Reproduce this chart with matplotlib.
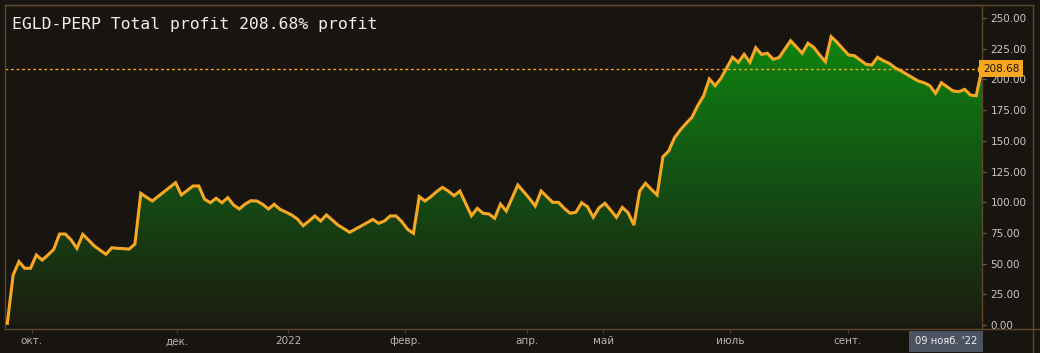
import numpy as np
from matplotlib import pyplot as plt
from matplotlib.colors import LinearSegmentedColormap
from matplotlib.patches import PathPatch
from matplotlib.lines import Line2D

# equity curve, one value per bar (% profit)
profit = [
    1.4, 40.7, 51.6, 46.2, 46.2, 57.0, 52.9, 57.0, 61.6, 74.1,
    74.1, 69.2, 62.4, 73.8, 69.2, 64.3, 61.0, 57.6, 62.9, 62.4,
    62.2, 61.8, 66.0, 107.2, 104.0, 101.0, 104.7, 108.4, 112.0, 115.9,
    105.9, 109.5, 113.2, 113.2, 102.4, 99.6, 103.2, 99.6, 103.7, 97.7,
    94.5, 98.5, 101.2, 101.0, 98.3, 94.5, 98.3, 94.2, 92.0, 89.6,
    86.3, 80.9, 84.7, 88.8, 84.7, 89.6, 85.5, 81.4, 78.5, 75.5,
    78.0, 80.6, 83.3, 86.0, 82.8, 84.7, 88.8, 88.8, 84.1, 77.9,
    74.7, 104.5, 101.0, 104.5, 108.6, 112.1, 109.1, 105.3, 109.1, 99.1,
    89.0, 95.0, 91.0, 90.4, 86.9, 98.5, 92.8, 103.5, 114.0, 108.6,
    103.0, 96.9, 109.1, 104.5, 99.9, 99.9, 95.0, 91.0, 91.8, 99.6,
    96.3, 87.7, 95.5, 99.1, 93.5, 87.7, 95.8, 91.4, 81.4, 109.1,
    115.4, 110.5, 105.9, 137.0, 141.7, 152.5, 158.8, 164.2, 169.1, 178.6,
    186.5, 200.3, 194.9, 200.9, 209.5, 218.0, 213.9, 220.4, 213.9, 225.8,
    220.4, 221.3, 216.4, 217.7, 224.5, 231.5, 226.5, 221.3, 229.4, 226.1,
    220.0, 214.4, 234.8, 230.2, 225.0, 219.9, 219.3, 215.8, 212.3, 211.7,
    218.0, 215.2, 213.1, 209.5, 207.0, 204.2, 201.5, 198.7, 197.3, 194.9,
    188.7, 197.3, 194.0, 190.6, 190.0, 191.9, 187.3, 186.7, 208.68,
]

month_labels = ["окт.", "дек.", "2022", "февр.", "апр.", "май", "июль", "сент."]
month_pos = [4.2, 29.3, 48.4, 68.6, 89.6, 102.7, 124.6, 144.9]
y_ticks = [0, 25, 50, 75, 100, 125, 150, 175, 200, 225, 250]
last_date = "09 нояб. '22"
title = "EGLD-PERP Total profit 208.68% profit"

bg = "#18140f"
frame = "#5a4828"
orange = "#f7a823"

x = np.arange(len(profit))
last = profit[-1]

fig = plt.figure(figsize=(10.4, 3.53), dpi=100)
fig.patch.set_facecolor(bg)
ax = fig.add_axes([5 / 1040, (353 - 329.3) / 353, 977 / 1040, 324.8 / 353])
ax.set_facecolor(bg)

# green gradient under the curve
poly = ax.fill_between(x, profit, 0, color="none", linewidth=0)
cmap = LinearSegmentedColormap.from_list("g", ["#1c1c10", "#145014", "#0f840f"])
grad = np.linspace(0, 1, 256).reshape(-1, 1)
im = ax.imshow(grad, extent=[x[0], x[-1], 0, max(profit)], origin="lower",
               aspect="auto", cmap=cmap, zorder=1)
clip = PathPatch(poly.get_paths()[0], transform=ax.transData,
                 facecolor="none", edgecolor="none")
ax.add_patch(clip)
im.set_clip_path(clip)

ax.plot(x, profit, color=orange, linewidth=2.2, zorder=3, solid_joinstyle="miter")
ax.axhline(last, color=orange, linewidth=1, linestyle=(0, (2, 2)), zorder=2)
ax.plot([x[-1]], [last], marker="o", markersize=6, color=orange, zorder=4, clip_on=False)

ax.set_xlim(-0.4, x[-1])
ax.set_ylim(-3.5, 261)

for s in ax.spines.values():
    s.set_color(frame)
    s.set_linewidth(1)

ax.yaxis.tick_right()
ax.set_yticks(y_ticks)
ax.set_yticklabels(["%.2f" % v for v in y_ticks])
ax.tick_params(axis="y", colors="#6b6259", labelcolor="#c8c8c8", labelsize=7.5,
               length=3, width=0.8, pad=3)
ax.set_xticks(month_pos)
ax.set_xticklabels(month_labels)
ax.tick_params(axis="x", colors="#4a4038", labelcolor="#b4b4b4", labelsize=7.5,
               length=3, width=0.8, pad=2)

# price label on the right axis
ax.text(1.001, last, "%.2f" % last, transform=ax.get_yaxis_transform(),
        ha="left", va="center", fontsize=7.5, color="#1a1511",
        bbox=dict(boxstyle="square,pad=0.35", facecolor=orange, edgecolor="none"),
        zorder=5, clip_on=False)

# date label under the last bar
ax.annotate(last_date, xy=(x[-1], 0), xycoords=("data", "axes fraction"),
            xytext=(-5, -12), textcoords="offset pixels",
            ha="right", va="center", fontsize=7.2, color="#f0f0f0",
            bbox=dict(boxstyle="square,pad=0.55", facecolor="#4b5262", edgecolor="none"),
            zorder=5, annotation_clip=False)

# outer frame
fig.add_artist(Line2D([5 / 1040, 1033 / 1040], [1 - 4.5 / 353] * 2, color=frame, linewidth=1))
fig.add_artist(Line2D([1033 / 1040] * 2, [0, 1 - 4.5 / 353], color=frame, linewidth=1))
fig.add_artist(Line2D([982 / 1040, 1], [(353 - 329.3) / 353] * 2, color=frame, linewidth=1))

fig.text(12 / 1040, 1 - 25 / 353, title, fontsize=11.8, color="#f0f0f0",
         family="DejaVu Sans Mono", va="center", ha="left")

plt.savefig("out.png", dpi=100, facecolor=bg)
